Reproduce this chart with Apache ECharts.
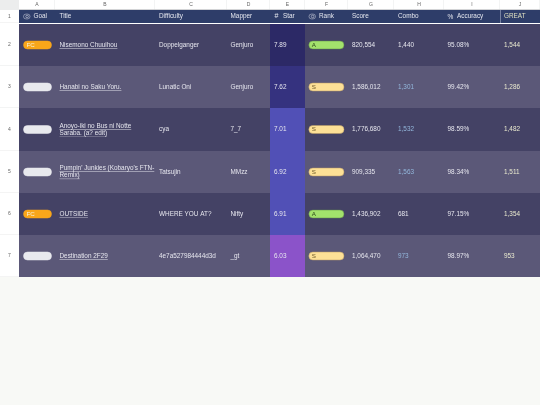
<!DOCTYPE html>
<html>
<head>
<meta charset="utf-8">
<script src="https://cdn.jsdelivr.net/npm/echarts@6/dist/echarts.min.js"></script>
<style>
html, body { margin: 0; padding: 0; background: #f8f9f6; }
#main { width: 540px; height: 405px; }
</style>
</head>
<body>
<div id="main"></div>
<script>
var colLetters = ['A', 'B', 'C', 'D', 'E', 'F', 'G', 'H', 'I', 'J'];
var headers = ['Goal', 'Title', 'Difficulty', 'Mapper', 'Star', 'Rank', 'Score', 'Combo', 'Accuracy', 'GREAT'];
var rowNumbers = ['2', '3', '4', '5', '6', '7'];
var goals = ['FC', '', '', '', 'FC', ''];
var titles = ['Nisemono Chuuihou', 'Hanabi no Saku Yoru.', 'Anoyo-iki no Bus ni Notte\nSaraba. (a? edit)',
    "Pumpin' Junkies (Kobaryo's FTN-\nRemix)", 'OUTSIDE', 'Destination 2F29'];
var difficulties = ['Doppelganger', 'Lunatic Oni', 'cya', 'Tatsujin', 'WHERE YOU AT?', '4e7a527984444d3d'];
var mappers = ['Genjuro', 'Genjuro', '7_7', 'MMzz', 'Nifty', '_gt'];
var stars = [7.89, 7.62, 7.01, 6.92, 6.91, 6.03];
var ranks = ['A', 'S', 'S', 'S', 'A', 'S'];
var scores = ['820,554', '1,586,012', '1,776,680', '909,335', '1,436,902', '1,064,470'];
var combos = ['1,440', '1,301', '1,532', '1,563', '681', '973'];
var accuracies = ['95.08%', '99.42%', '98.59%', '98.34%', '97.15%', '98.97%'];
var greats = ['1,544', '1,286', '1,482', '1,511', '1,354', '953'];

// sheet geometry, in page pixels
var colEdges = [19, 55, 155, 227, 270, 305, 348, 394, 444, 500, 540];
var rowEdges = [24, 66, 108, 151, 193, 235, 277];
var headTop = 10, headBottom = 23;
var textPad = [0, 4.5, 4, 3.5, 4, 0, 4, 4, 3.5, 4];

var FONT = '"Liberation Sans", Arial, sans-serif';
var measure = document.createElement('canvas').getContext('2d');

function starColor(v) {
    if (v >= 7.8) return '#2c2966';
    if (v >= 7.5) return '#35327f';
    if (v >= 6.5) return '#5150b6';
    return '#8b53c9';
}

function label(x, y, text, color, size, align) {
    return {
        type: 'text',
        silent: true,
        style: {
            x: x, y: y, text: text, fill: color,
            font: (size || 6.4) + 'px ' + FONT,
            textAlign: align || 'left', textVerticalAlign: 'middle'
        }
    };
}

function box(x0, y0, x1, y1, fill, r, stroke) {
    return {
        type: 'rect',
        silent: true,
        shape: { x: x0, y: y0, width: x1 - x0, height: y1 - y0, r: r || 0 },
        style: { fill: fill, stroke: stroke || null, lineWidth: stroke ? 0.5 : 0 }
    };
}

function pill(x0, x1, cy, fill, stroke, text, textColor) {
    var out = [box(x0, cy - 4, x1, cy + 4, fill, 4, stroke)];
    if (text) out.push(label(x0 + 3, cy + 0.2, text, textColor, 6.2));
    return out;
}

function underlined(x, cy, text, color) {
    var lines = text.split('\n');
    var out = [];
    measure.font = '6.4px ' + FONT;
    lines.forEach(function (ln, i) {
        var y = cy + (i - (lines.length - 1) / 2) * 7.2;
        out.push(label(x, y, ln, color));
        out.push(box(x, y + 3.1, x + measure.measureText(ln).width, y + 3.5, color));
    });
    return out;
}

function renderBody(params, api) {
    var col = api.value(0), row = api.value(1);
    var p0 = api.coord([colEdges[col], rowEdges[row]]);
    var p1 = api.coord([colEdges[col + 1], rowEdges[row + 1]]);
    var cy = (p0[1] + p1[1]) / 2;
    var tx = p0[0] + textPad[col];
    var bg = row % 2 === 0 ? '#444265' : '#5b5878';
    var text = '#e6e6ee';
    var kids = [];
    if (col === 4) bg = starColor(stars[row]);
    kids.push(box(p0[0], p0[1], p1[0], p1[1], bg));
    if (col === 0) {
        if (goals[row] === 'FC') kids = kids.concat(pill(p0[0] + 4.5, p1[0] - 3.5, cy, '#f9a61a', '#f9a61a', 'FC', '#f8f0d8'));
        else kids = kids.concat(pill(p0[0] + 4.5, p1[0] - 3.5, cy, '#e8e9ee', '#e8e9ee'));
    } else if (col === 1) {
        kids = kids.concat(underlined(tx, cy, titles[row], text));
    } else if (col === 5) {
        if (ranks[row] === 'A') kids = kids.concat(pill(p0[0] + 3.8, p1[0] - 4, cy, '#a3e26c', '#5f8a48', 'A', '#2c4a1c'));
        else kids = kids.concat(pill(p0[0] + 3.8, p1[0] - 4, cy, '#fde096', '#b89a65', 'S', '#6a5524'));
    } else {
        var value = [null, null, difficulties, mappers, stars, null, scores, combos, accuracies, greats][col][row];
        if (col === 7 && goals[row] !== 'FC') text = '#93b7dc';
        if (col === 9) text = '#e9e9cf';
        kids.push(label(tx, cy, col === 4 ? value.toFixed(2) : value, text));
    }
    return { type: 'group', children: kids };
}

function renderHead(params, api) {
    var col = api.value(0);
    var p0 = api.coord([colEdges[col], headTop]);
    var p1 = api.coord([colEdges[col + 1], headBottom]);
    var cy = (p0[1] + p1[1]) / 2;
    var letterY = api.coord([0, 4.8])[1];
    var kids = [
        box(p0[0], api.coord([0, 0])[1], p1[0], p0[1], '#ffffff'),
        box(p1[0] - 0.4, api.coord([0, 0])[1], p1[0], p0[1], '#e2e3e3'),
        box(p0[0], p0[1] - 0.7, p1[0], p0[1], '#c4c6c8'),
        label((p0[0] + p1[0]) / 2, letterY, colLetters[col], '#666666', 5, 'center'),
        box(p0[0], p0[1], p1[0], p1[1], '#2e3d69')
    ];
    var tx = p0[0] + textPad[col];
    var c = '#e4e6ee';
    if (col === 0 || col === 5) {
        var ix = col === 0 ? p0[0] + 4.5 : p0[0] + 4;
        kids.push(box(ix, cy - 2.4, ix + 6.5, cy + 2.4, 'transparent', 2.4, '#d5d7e2'));
        kids.push({ type: 'circle', silent: true, shape: { cx: ix + 3.6, cy: cy, r: 1.3 }, style: { fill: 'transparent', stroke: '#d5d7e2', lineWidth: 0.6 } });
        tx = ix + 10;
    } else if (col === 4) {
        kids.push(label(p0[0] + 4.5, cy, '#', c, 7));
        tx = p0[0] + 13;
    } else if (col === 8) {
        kids.push(label(p0[0] + 3.5, cy + 0.5, '%', c, 6.5));
        tx = p0[0] + 13;
    } else if (col === 9) {
        kids.push(box(p0[0], p0[1], p0[0] + 0.6, p1[1], '#aab0c6'));
        c = '#dfe0c0';
    }
    kids.push(label(tx, cy - 0.3, headers[col], c));
    return { type: 'group', children: kids };
}

// row header gutter on the left of the sheet
function renderGutter(params, api) {
    var row = api.value(0);
    var top = api.coord([0, row < 0 ? headTop : rowEdges[row]]);
    var bottom = api.coord([colEdges[0], row < 0 ? headBottom : rowEdges[row + 1]]);
    return {
        type: 'group',
        children: [
            box(0, top[1], bottom[0], bottom[1], '#ffffff'),
            box(0, bottom[1] - 0.4, bottom[0], bottom[1], '#e2e3e3'),
            label(bottom[0] / 2, (top[1] + bottom[1]) / 2, row < 0 ? '1' : rowNumbers[row], '#666666', 5, 'center')
        ]
    };
}

var headData = [], bodyData = [], gutterData = [[-1]];
for (var c = 0; c < colLetters.length; c++) {
    headData.push([c]);
    for (var r = 0; r < rowNumbers.length; r++) bodyData.push([c, r]);
}
for (var r2 = 0; r2 < rowNumbers.length; r2++) gutterData.push([r2]);

var chart = echarts.init(document.getElementById('main'), null, { renderer: 'canvas', devicePixelRatio: 1 });

chart.setOption({
    animation: false,
    backgroundColor: '#f8f9f6',
    grid: { left: 0, right: 0, top: 0, bottom: 0 },
    xAxis: { type: 'value', min: 0, max: 540, show: false },
    yAxis: { type: 'value', min: 0, max: 405, inverse: true, show: false },
    graphic: [
        { type: 'rect', silent: true, shape: { x: 0, y: 0, width: 540, height: 24 }, style: { fill: '#ffffff' } },
        { type: 'rect', silent: true, shape: { x: 0, y: 0, width: 19, height: 10 }, style: { fill: '#eceded' } }
    ],
    series: [
        { type: 'custom', data: gutterData, renderItem: renderGutter, clip: false, silent: true, encode: { x: [], y: [] } },
        { type: 'custom', data: headData, renderItem: renderHead, clip: false, silent: true, encode: { x: [], y: [] } },
        { type: 'custom', data: bodyData, renderItem: renderBody, clip: false, silent: true, encode: { x: [], y: [] } }
    ]
});
</script>
</body>
</html>
